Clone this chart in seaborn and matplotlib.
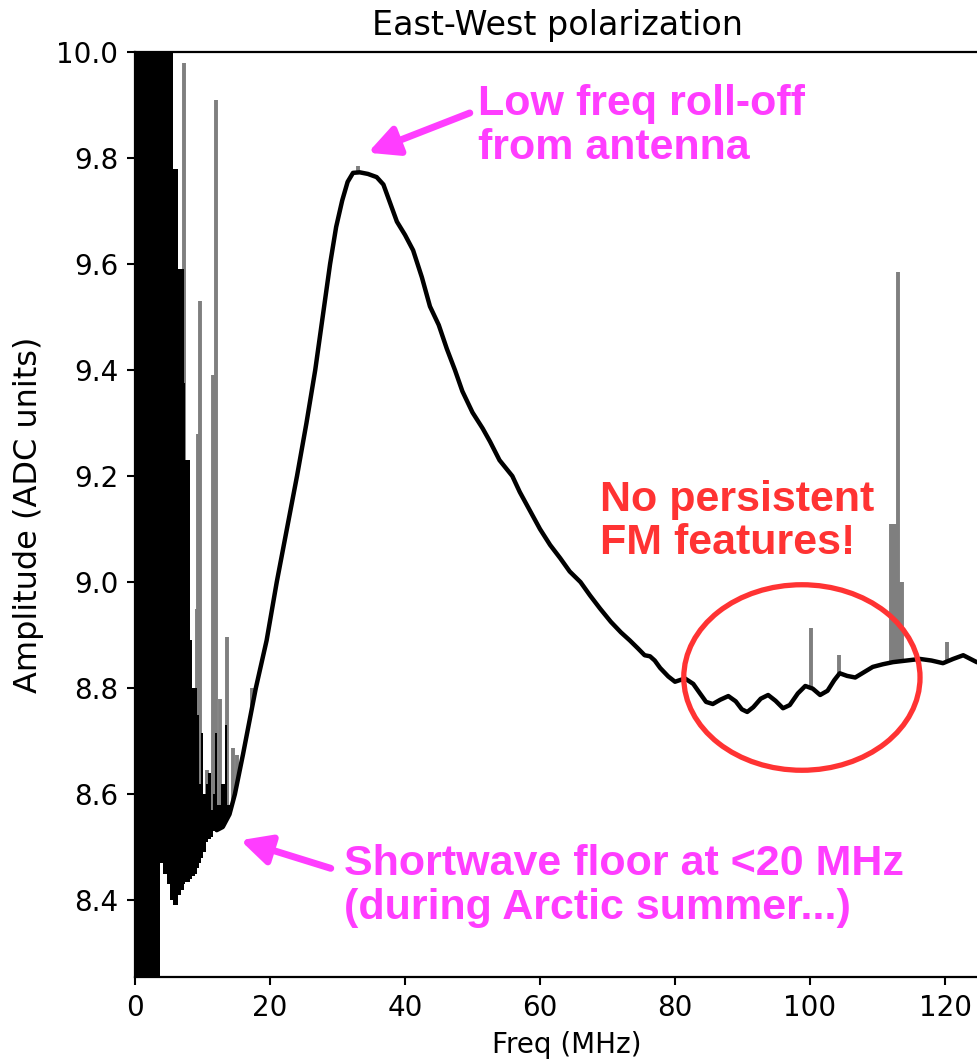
import numpy as np
import pandas as pd
import matplotlib
matplotlib.use("Agg")
import matplotlib.pyplot as plt
import seaborn as sns
from matplotlib.patches import Ellipse

# ---- data ----
main_freq = [12.1, 13.0, 14.0, 14.8, 16.0, 17.9, 19.5, 21.0, 22.5, 24.0, 25.4, 26.7, 27.8, 28.9,
             29.8, 30.7, 31.5, 32.3, 33.3, 34.5, 35.8, 36.8, 37.8, 38.8, 40.0, 41.2, 42.5, 43.7,
             45.0, 46.2, 47.4, 48.5, 50.0, 51.5, 52.6, 54.0, 55.9, 57.0, 58.5, 60.0, 61.5, 63.0,
             64.4, 66.0, 67.4, 68.9, 70.5, 72.0, 73.3, 74.5, 75.5, 76.3, 77.0, 77.8, 79.0, 80.0,
             80.7, 81.5, 82.7, 83.7, 84.6, 85.6, 86.7, 87.9, 89.0, 89.9, 90.7, 91.6, 92.7, 93.8,
             94.9, 96.0, 97.0, 98.2, 99.3, 100.4, 101.5, 102.6, 103.6, 104.4, 105.5, 106.7, 108.0,
             109.3, 110.8, 112.3, 114.3, 116.3, 118.0, 119.7, 121.2, 122.7, 124.7, 127.0]
main_amp = [8.532, 8.538, 8.562, 8.600, 8.675, 8.800, 8.890, 9.000, 9.100, 9.200, 9.300, 9.400,
            9.500, 9.600, 9.670, 9.720, 9.755, 9.772, 9.773, 9.770, 9.764, 9.750, 9.715, 9.680,
            9.655, 9.626, 9.575, 9.520, 9.485, 9.440, 9.400, 9.360, 9.320, 9.290, 9.265, 9.230,
            9.200, 9.170, 9.135, 9.100, 9.070, 9.045, 9.020, 9.000, 8.975, 8.950, 8.925, 8.905,
            8.890, 8.875, 8.862, 8.860, 8.852, 8.838, 8.822, 8.812, 8.815, 8.818, 8.808, 8.790,
            8.774, 8.770, 8.778, 8.785, 8.775, 8.760, 8.755, 8.764, 8.780, 8.787, 8.776, 8.762,
            8.768, 8.790, 8.804, 8.799, 8.787, 8.795, 8.815, 8.828, 8.823, 8.820, 8.830, 8.840,
            8.845, 8.849, 8.852, 8.855, 8.852, 8.847, 8.855, 8.862, 8.849, 8.845]

# low-frequency shortwave noise band (step edges: lower / upper envelope)
noise_freq = [0.0, 3.7, 4.2, 4.7, 5.2, 5.6, 6.4, 6.8, 7.2, 7.4, 8.1, 8.5, 8.9, 9.2, 9.5, 9.8,
              10.1, 10.5, 10.8, 11.3, 11.6, 11.9, 12.2, 12.8, 13.3, 13.7, 14.1]
noise_low = [8.0, 8.47, 8.45, 8.43, 8.40, 8.39, 8.41, 8.42, 8.43, 8.435, 8.44, 8.445, 8.45,
             8.46, 8.47, 8.48, 8.49, 8.51, 8.515, 8.52, 8.53, 8.535, 8.535, 8.54, 8.548, 8.556,
             8.564]
noise_high = [10.5, 10.5, 10.5, 10.5, 10.5, 9.78, 9.59, 9.59, 9.375, 9.23, 8.89, 8.80, 8.80,
              8.75, 8.62, 8.715, 8.60, 8.62, 8.64, 8.57, 8.60, 8.715, 8.58, 8.62, 8.73, 8.58,
              8.564]

# gray max-hold spikes (frequency, peak amplitude)
spike_freq = [7.3, 9.2, 9.3, 9.6, 10.7, 11.6, 12.0, 12.6, 13.6, 14.5, 15.1, 17.4, 33.0,
              100.1, 104.3, 112.0, 112.3, 112.6, 113.0, 113.3, 113.6, 120.3]
spike_top = [9.98, 8.95, 9.28, 9.53, 8.645, 9.39, 9.91, 8.78, 8.896, 8.687, 8.674, 8.80, 9.785,
             8.913, 8.862, 9.11, 9.11, 9.11, 9.585, 9.00, 9.00, 8.887]

x_ticks = [0, 20, 40, 60, 80, 100, 120]
y_ticks = [8.4, 8.6, 8.8, 9.0, 9.2, 9.4, 9.6, 9.8, 10.0]

# ---- plotting ----
sns.set_style("ticks")
plt.rcParams['font.family'] = ['DejaVu Sans']
plt.rcParams['text.color'] = 'black'
plt.rcParams['axes.labelcolor'] = 'black'
plt.rcParams['xtick.color'] = 'black'
plt.rcParams['ytick.color'] = 'black'

fig = plt.figure(figsize=(9.77, 10.64), dpi=100)
ax = fig.add_axes([135 / 977, 1 - 977 / 1064, 864 / 977, (977 - 52) / 1064])

gray = '#7f7f7f'
base = np.interp(spike_freq, main_freq, main_amp)
ax.vlines(spike_freq, base, spike_top, color=gray, lw=2.8, zorder=2)

ax.fill_between(noise_freq, noise_low, noise_high, step='post', color='black', lw=0, zorder=3)

df = pd.DataFrame({'Freq': main_freq, 'Amp': main_amp})
sns.lineplot(data=df, x='Freq', y='Amp', ax=ax, color='black', lw=3.2, zorder=4)

ax.set_xlim(0, 128)
ax.set_ylim(8.255, 10.0)
ax.set_xticks(x_ticks)
ax.set_yticks(y_ticks)
ax.set_yticklabels([f"{v:.1f}" for v in y_ticks])
ax.tick_params(axis='both', labelsize=20, length=6, width=1.5, color='black',
               labelcolor='black', pad=6)
for s in ax.spines.values():
    s.set_linewidth(1.6)
    s.set_color('black')
ax.set_xlabel('Freq (MHz)', fontsize=20, labelpad=7, color='black')
ax.set_ylabel('Amplitude (ADC units)', fontsize=23, labelpad=9, color='black')
ax.set_title('East-West polarization', fontsize=24, pad=12, color='black',
             x=(558 - 135) / 864)

magenta = '#ff3dff'
red = '#ff3333'
tfont = dict(family='Liberation Sans', weight='bold', fontsize=31)

ax.text(50.8, 9.94, 'Low freq roll-off\nfrom antenna', color=magenta, va='top', ha='left',
        linespacing=1.12, **tfont)
ax.text(31.0, 8.505, 'Shortwave floor at <20 MHz\n(during Arctic summer...)', color=magenta,
        va='top', ha='left', linespacing=1.12, **tfont)
ax.text(68.9, 9.193, 'No persistent\nFM features!', color=red, va='top', ha='left',
        linespacing=1.12, **tfont)

arrow = dict(arrowstyle='-|>', color=magenta, lw=5, mutation_scale=45, shrinkA=0, shrinkB=0)
ax.annotate('', xy=(34.5, 9.81), xytext=(49.6, 9.885), arrowprops=arrow)
ax.annotate('', xy=(15.6, 8.513), xytext=(29.0, 8.46), arrowprops=arrow)

ax.add_patch(Ellipse((98.8, 8.82), 35.0, 0.35, fill=False, edgecolor=red, lw=3.8, zorder=5))

fig.savefig('out.png', dpi=100)
